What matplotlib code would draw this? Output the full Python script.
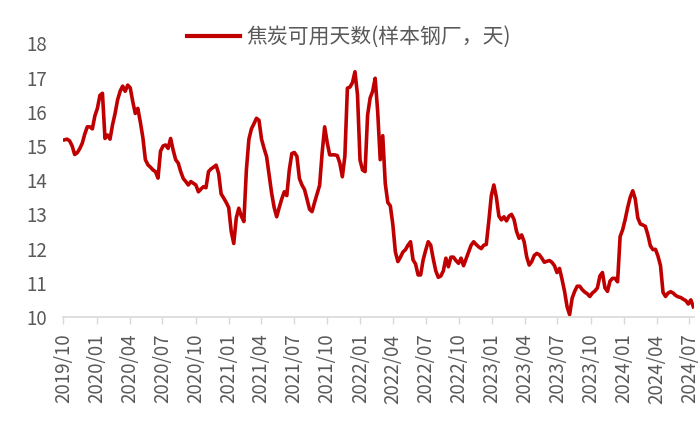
import matplotlib
matplotlib.use('Agg')
import matplotlib.pyplot as plt
import matplotlib.dates as mdates
from matplotlib.lines import Line2D
import pandas as pd

# weekly coke available days at sample steel mills, from 2019-10-04
start_date = '2019-10-04'
days = [
    15.18, 15.2, 15.15, 15.0, 14.75, 14.8, 14.92, 15.08, 15.35, 15.56,
    15.56, 15.5, 15.88, 16.1, 16.48, 16.54, 15.22, 15.32, 15.2, 15.62,
    15.95, 16.35, 16.6, 16.75, 16.6, 16.78, 16.7, 16.3, 15.95, 16.1,
    15.7, 15.25, 14.6, 14.45, 14.38, 14.3, 14.25, 14.06, 14.85, 15.0,
    15.03, 14.93, 15.22, 14.88, 14.6, 14.5, 14.25, 14.05, 13.96, 13.86,
    13.96, 13.91, 13.86, 13.66, 13.74, 13.81, 13.78, 14.25, 14.33, 14.38,
    14.44, 14.2, 13.6, 13.48, 13.35, 13.2, 12.5, 12.15, 12.9, 13.18,
    12.95, 12.79, 14.3, 15.2, 15.5, 15.65, 15.81, 15.75, 15.2, 14.93,
    14.69, 14.15, 13.62, 13.2, 12.93, 13.2, 13.45, 13.66, 13.55, 14.3,
    14.78, 14.81, 14.7, 14.05, 13.86, 13.73, 13.45, 13.15, 13.08, 13.35,
    13.6, 13.85, 14.8, 15.56, 15.1, 14.74, 14.74, 14.74, 14.72, 14.5,
    14.1, 14.7, 16.69, 16.72, 16.85, 17.17, 16.5, 14.59, 14.3, 14.25,
    15.9, 16.4, 16.6, 16.98, 16.0, 14.6, 15.3, 13.9, 13.35, 13.25,
    12.7, 11.9, 11.62, 11.75, 11.9, 11.97, 12.1, 12.2, 11.67, 11.55,
    11.23, 11.23, 11.67, 11.95, 12.2, 12.1, 11.7, 11.35, 11.16, 11.2,
    11.35, 11.72, 11.47, 11.75, 11.75, 11.65, 11.57, 11.72, 11.5, 11.7,
    11.9, 12.1, 12.2, 12.12, 12.05, 12.0, 12.1, 12.12, 12.8, 13.55,
    13.86, 13.5, 12.95, 12.84, 12.93, 12.81, 12.95, 13.0, 12.85, 12.5,
    12.3, 12.4, 12.2, 11.76, 11.52, 11.62, 11.8, 11.86, 11.82, 11.72,
    11.6, 11.63, 11.65, 11.6, 11.5, 11.3, 11.42, 11.1, 10.75, 10.3,
    10.07, 10.55, 10.75, 10.9, 10.9, 10.8, 10.73, 10.68, 10.6, 10.7,
    10.76, 10.85, 11.2, 11.3, 10.85, 10.75, 11.05, 11.13, 11.13, 11.03,
    12.35, 12.55, 12.85, 13.2, 13.5, 13.69, 13.45, 12.9, 12.72, 12.69,
    12.65, 12.4, 12.08, 11.97, 11.98, 11.78, 11.5, 10.72, 10.6, 10.7,
    10.74, 10.7, 10.63, 10.59, 10.57, 10.52, 10.48, 10.38, 10.5, 10.3,
]
series_name = '焦炭可用天数(样本钢厂，天)'
y_ticks = [10, 11, 12, 13, 14, 15, 16, 17, 18]

dates = pd.date_range(start_date, periods=len(days), freq='7D')
quarters = pd.date_range('2019-10-01', '2024-07-01', freq='QS')

plt.rcParams['font.family'] = ['Noto Sans CJK SC', 'DejaVu Sans']

red = '#C00000'
grey = '#595959'

fig = plt.figure(figsize=(7, 4.21), dpi=100)
ax = fig.add_axes([0.0907, 0.247, 0.9003, 0.65])

ax.plot(dates, days, color=red, lw=2.6, solid_joinstyle='round')

ax.set_ylim(10, 18)
ax.set_yticks(y_ticks)
ax.set_xlim(pd.Timestamp('2019-10-01'), pd.Timestamp('2024-07-13'))
ax.set_xticks(quarters)
ax.xaxis.set_major_formatter(mdates.DateFormatter('%Y/%m'))

for s in ['top', 'right', 'left']:
    ax.spines[s].set_visible(False)
ax.spines['bottom'].set_color('#D9D9D9')
ax.spines['bottom'].set_linewidth(1.2)

ax.tick_params(axis='x', rotation=90, labelsize=13.5, colors=grey,
               length=5, width=1, color='#D9D9D9', pad=7)
ax.tick_params(axis='y', labelsize=13.5, colors=grey, length=0, pad=12)

handle = Line2D([], [], color=red, lw=3)
fig.legend([handle], [series_name], loc='center', bbox_to_anchor=(0.499, 0.912),
           frameon=False, fontsize=15, handlelength=2.5, handletextpad=0.34,
           labelcolor=grey)

fig.savefig('out.png', dpi=100)
